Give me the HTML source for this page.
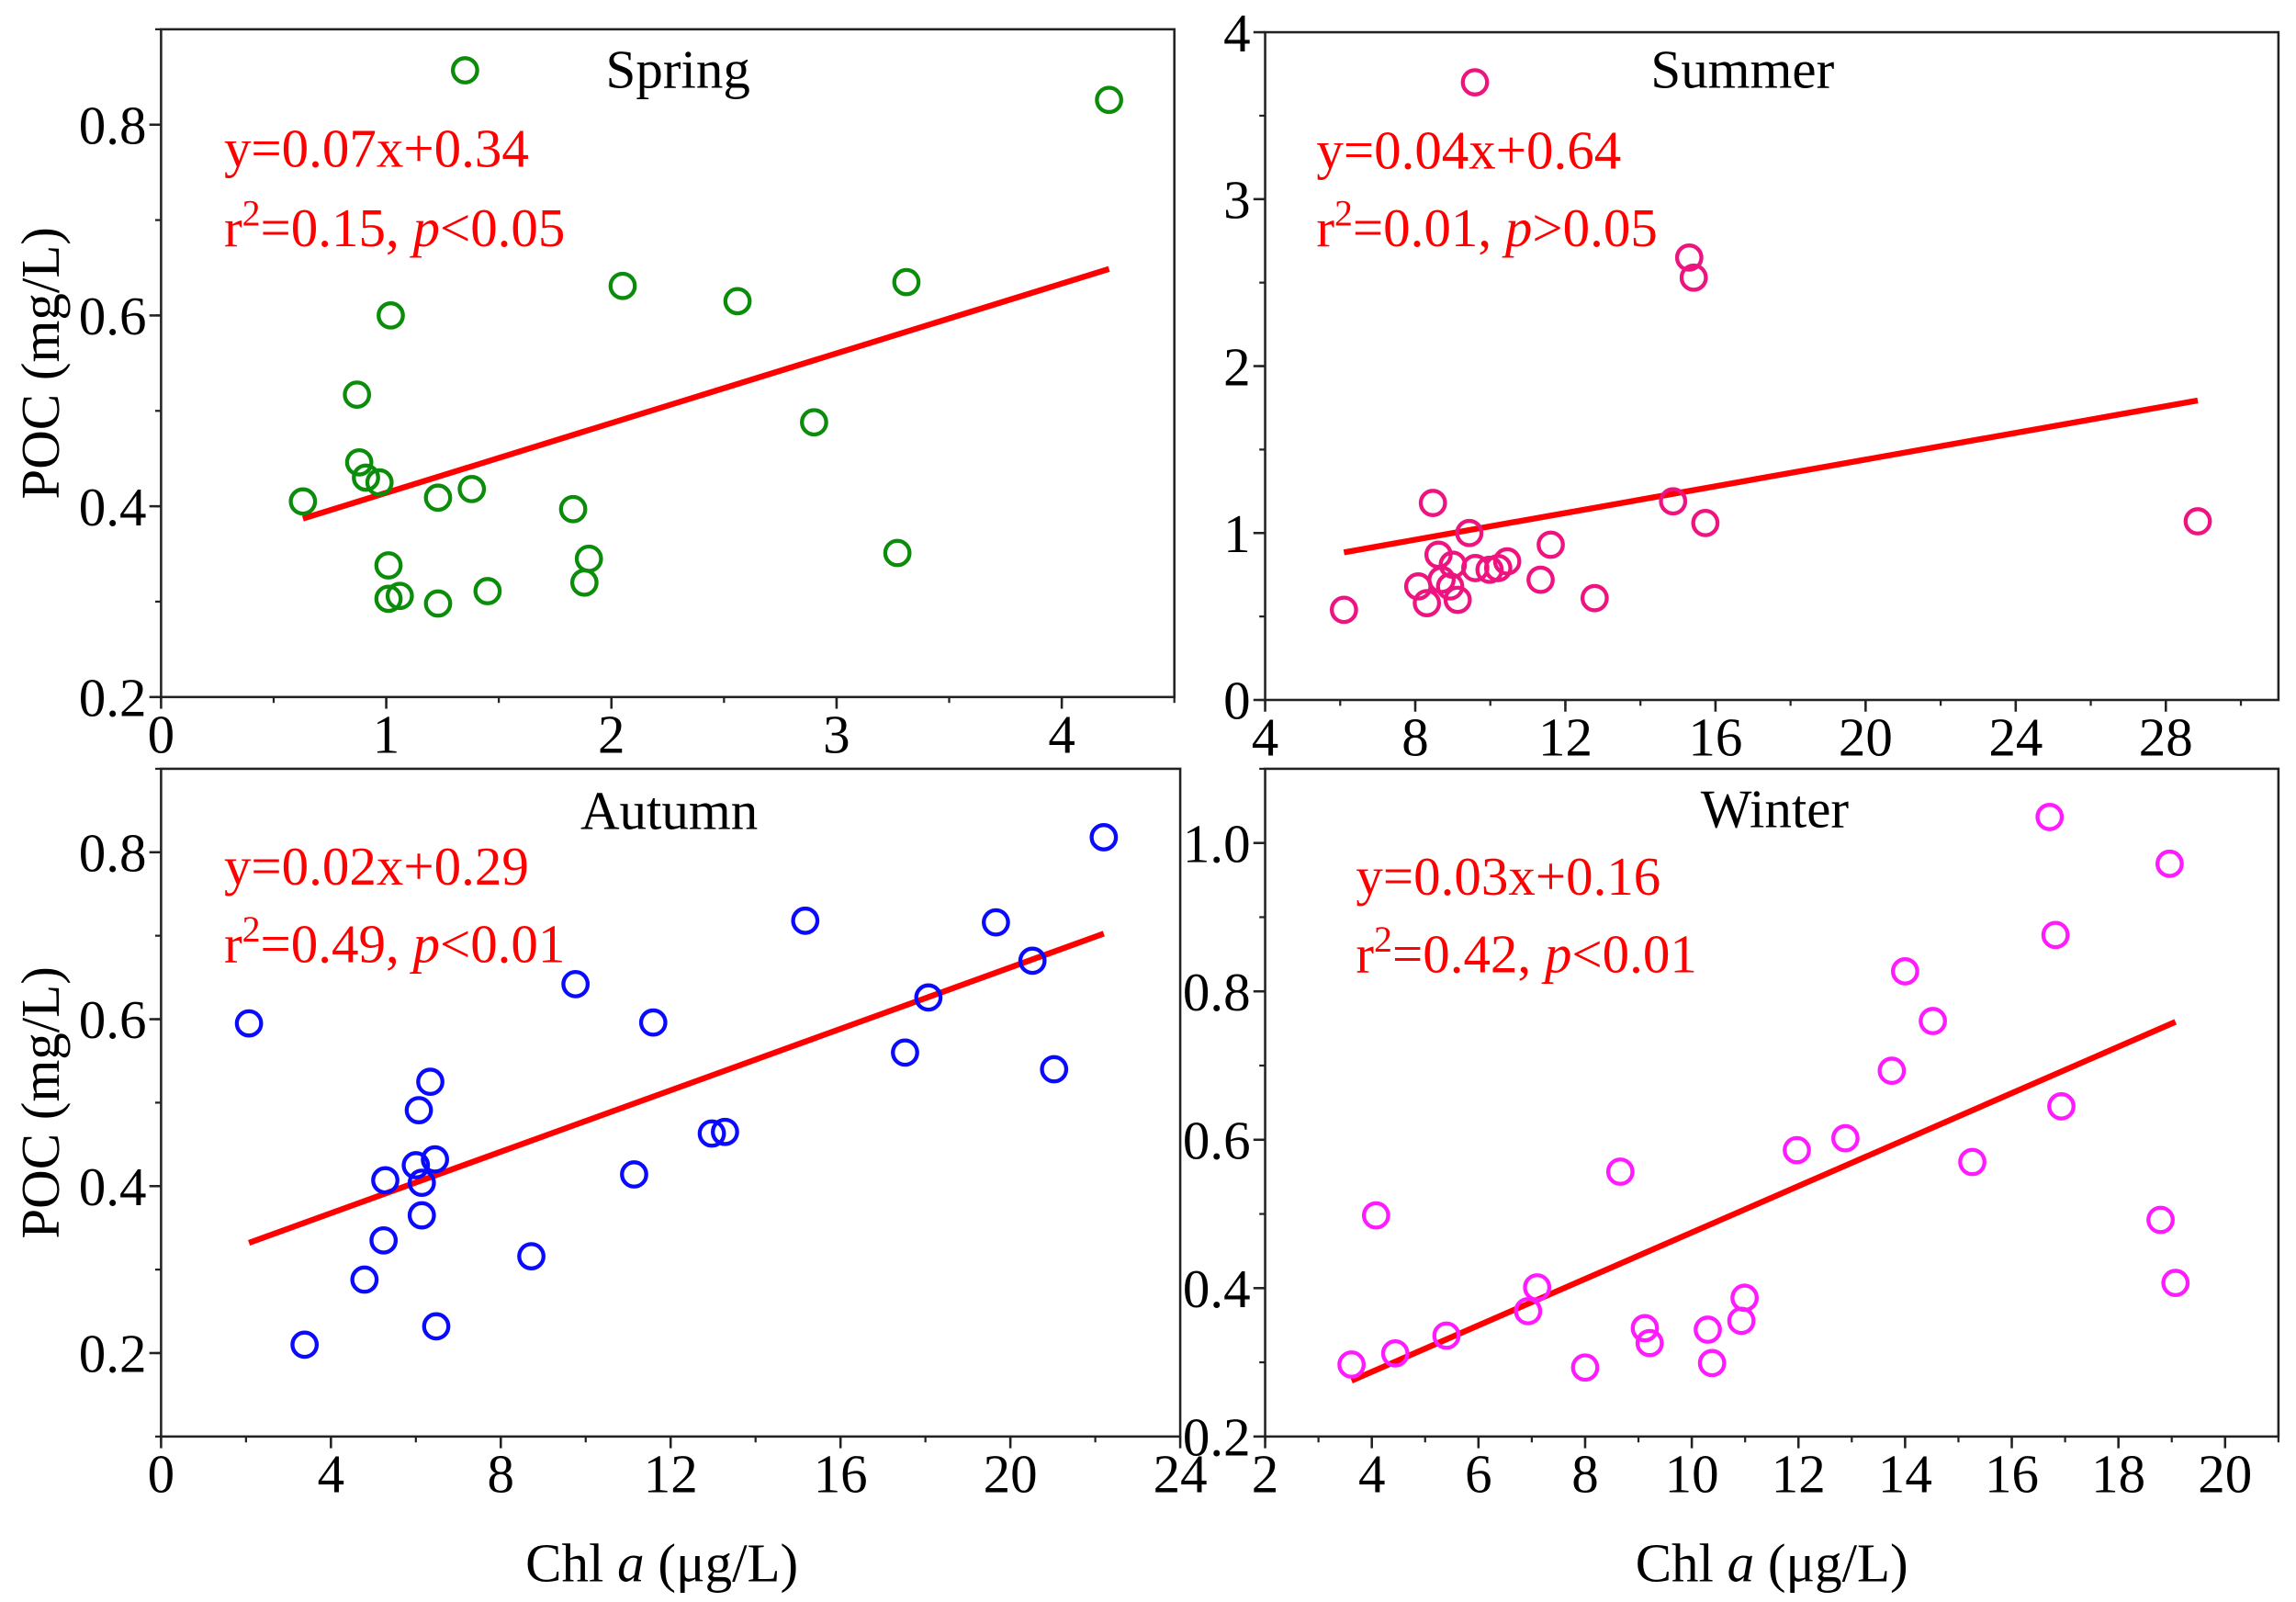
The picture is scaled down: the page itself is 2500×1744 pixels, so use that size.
<!DOCTYPE html>
<html><head><meta charset="utf-8"><style>
html,body{margin:0;padding:0;background:#fff;}
svg{display:block;}
text{font-family:"Liberation Serif",serif;}
</style></head><body>
<svg id="chart" width="2500" height="1744" viewBox="0 0 1568 1094" preserveAspectRatio="none" xmlns="http://www.w3.org/2000/svg"></svg>
<script>
// ---- data ----
const springX=[1.35,4.21,0.63,0.87,0.88,0.91,0.97,1.02,1.01,1.01,1.06,1.23,1.38,1.23,1.45,1.83,1.90,1.88,2.05,2.56,2.90,3.27,3.31];
const springY=[0.857,0.826,0.405,0.517,0.446,0.43,0.425,0.6,0.338,0.303,0.306,0.409,0.418,0.298,0.311,0.397,0.345,0.32,0.631,0.615,0.488,0.351,0.635];
const summerX=[9.59,15.30,15.42,28.85,14.87,15.73,8.47,9.44,11.61,8.62,10.45,10.21,9.0,9.6,9.98,8.08,8.70,8.93,11.34,6.10,8.31,9.13,12.78];
const summerY=[3.70,2.65,2.53,1.07,1.19,1.06,1.18,1.0,0.93,0.87,0.83,0.79,0.81,0.79,0.78,0.68,0.72,0.68,0.72,0.54,0.58,0.60,0.61];
const autumnX=[22.2,2.07,3.38,9.76,11.59,15.17,19.66,20.52,18.07,17.52,21.03,6.34,6.07,6.45,6.0,6.14,5.28,6.14,5.24,4.79,6.48,8.72,11.14,12.97,13.28];
const autumnY=[0.818,0.595,0.21,0.642,0.596,0.718,0.716,0.670,0.626,0.56,0.540,0.525,0.491,0.432,0.425,0.404,0.407,0.365,0.335,0.288,0.232,0.316,0.414,0.463,0.465];
const winterX=[16.71,18.96,16.82,14.0,14.52,13.75,16.93,12.88,11.97,15.26,8.66,4.08,18.79,19.07,7.10,6.93,10.99,10.93,9.12,10.30,9.21,5.40,4.44,3.62,8.0,10.38];
const winterY=[1.035,0.972,0.876,0.827,0.760,0.693,0.645,0.602,0.586,0.570,0.557,0.498,0.492,0.407,0.401,0.369,0.387,0.356,0.346,0.344,0.326,0.336,0.312,0.297,0.293,0.299];
const fitSlope=[0.0731,0.04,0.0184,0.0313];
const fitIntercept=[0.341,0.64,0.294,0.162];
const seasonNames=["Spring","Summer","Autumn","Winter"];
const eqLabels=["y=0.07x+0.34","y=0.04x+0.64","y=0.02x+0.29","y=0.03x+0.16"];
const r2Labels=["0.15","0.01","0.49","0.42"];
const pSigns=["<","&gt;","<","<"];
const pVals=["0.05","0.05","0.01","0.01"];
const springXTicks=[0,1,2,3,4], springYTicks=[0.2,0.4,0.6,0.8];
const summerXTicks=[4,8,12,16,20,24,28], summerYTicks=[0,1,2,3,4];
const autumnXTicks=[0,4,8,12,16,20,24], autumnYTicks=[0.2,0.4,0.6,0.8];
const winterXTicks=[2,4,6,8,10,12,14,16,18,20], winterYTicks=[0.2,0.4,0.6,0.8,1.0];

const NS="http://www.w3.org/2000/svg";
const svg=document.getElementById('chart');
function mk(tag,attrs,parent){const e=document.createElementNS(NS,tag);for(const k in attrs)e.setAttribute(k,attrs[k]);(parent||svg).appendChild(e);return e;}

const panels=[
 {xs:springX,ys:springY,box:[110,20,802,476],xr:[0,4.5],yr:[0.2,0.9],xt:springXTicks,yt:springYTicks,xminor:0.5,yminor:0.1,dec:1,color:"#0b8c0b",title:[463,60],eq:[153,114,168],ytitle:true,xtitle:false},
 {xs:summerX,ys:summerY,box:[864,22,1556,478],xr:[4,31],yr:[0,4],xt:summerXTicks,yt:summerYTicks,xminor:2,yminor:0.5,dec:0,color:"#ee1480",title:[1190,60],eq:[899,115,168],ytitle:false,xtitle:false},
 {xs:autumnX,ys:autumnY,box:[110,525,806,981],xr:[0,24],yr:[0.1,0.9],xt:autumnXTicks,yt:autumnYTicks,xminor:2,yminor:0.1,dec:1,color:"#0a0aff",title:[457,566],eq:[153,604,657],ytitle:true,xtitle:true},
 {xs:winterX,ys:winterY,box:[864,525,1556,981],xr:[2,21],yr:[0.2,1.1],xt:winterXTicks,yt:winterYTicks,xminor:1,yminor:0.1,dec:1,color:"#ff1aff",title:[1212,565],eq:[926,611,664],ytitle:false,xtitle:true}
];

panels.forEach((p,i)=>{
  const [x0,y0,x1,y1]=p.box;
  const sx=v=>x0+(v-p.xr[0])/(p.xr[1]-p.xr[0])*(x1-x0);
  const sy=v=>y1-(v-p.yr[0])/(p.yr[1]-p.yr[0])*(y1-y0);
  const g=mk('g',{});
  
  
  const frame=mk('rect',{x:x0,y:y0,width:x1-x0,height:y1-y0,fill:'none',stroke:'#222','stroke-width':1.6},g);
  
  
  for(let v=p.xr[0];v<=p.xr[1]+1e-9;v+=p.xminor){mk('line',{x1:sx(v),x2:sx(v),y1:y1,y2:y1+4,stroke:'#222','stroke-width':1.4},g);}
  for(let v=p.yr[0];v<=p.yr[1]+1e-9;v+=p.yminor){mk('line',{x1:x0-4,x2:x0,y1:sy(v),y2:sy(v),stroke:'#222','stroke-width':1.4},g);}
  p.xt.forEach(v=>{
    mk('line',{x1:sx(v),x2:sx(v),y1:y1,y2:y1+8,stroke:'#222','stroke-width':1.6},g);
    const t=mk('text',{x:sx(v),y:y1+38,'font-size':37,'text-anchor':'middle'},g);
    t.textContent=String(v);
    
    
  });
  p.yt.forEach(v=>{
    mk('line',{x1:x0-8,x2:x0,y1:sy(v),y2:sy(v),stroke:'#222','stroke-width':1.6},g);
    const t=mk('text',{x:x0-10,y:sy(v)+13,'font-size':37,'text-anchor':'end'},g);
    t.textContent=v.toFixed(p.dec);
    
    
  });
  const mnx=Math.min(...p.xs), mxx=Math.max(...p.xs);
  const fl=mk('line',{x1:sx(mnx),y1:sy(fitSlope[i]*mnx+fitIntercept[i]),x2:sx(mxx),y2:sy(fitSlope[i]*mxx+fitIntercept[i]),stroke:'#ff0000','stroke-width':4},g);
  
  
  p.xs.forEach((xv,j)=>{
    const c=mk('circle',{cx:sx(xv),cy:sy(p.ys[j]),r:8.3,fill:'none',stroke:p.color,'stroke-width':2.7},g);
    
    
  });
  const tt=mk('text',{x:p.title[0],y:p.title[1],'font-size':37,'text-anchor':'middle'},g);
  tt.textContent=seasonNames[i];
  
  
  const e1=mk('text',{x:p.eq[0],y:p.eq[1],'font-size':37,fill:'#ff0000'},g);
  e1.textContent=eqLabels[i];
  
  
  const e2=mk('text',{x:p.eq[0],y:p.eq[2],'font-size':37,fill:'#ff0000'},g);
  e2.innerHTML='r<tspan font-size="25" dy="-14">2</tspan><tspan dy="14">='+r2Labels[i]+', </tspan><tspan font-style="italic">p</tspan>'+pSigns[i]+pVals[i];
  
  
  if(p.ytitle){
    const cy=(y0+y1)/2;
    const yt=mk('text',{x:0,y:0,'font-size':37,'text-anchor':'middle',transform:'translate(40,'+cy+') rotate(-90)'},g);
    yt.textContent='POC (mg/L)';
    
    
  }
  if(p.xtitle){
    const xt=mk('text',{x:(x0+x1)/2+(i===2?-6:0),y:1080,'font-size':37,'text-anchor':'middle'},g);
    xt.innerHTML='Chl <tspan font-style="italic">a</tspan> (μg/L)';
    
    
  }
});
</script>
</body></html>
